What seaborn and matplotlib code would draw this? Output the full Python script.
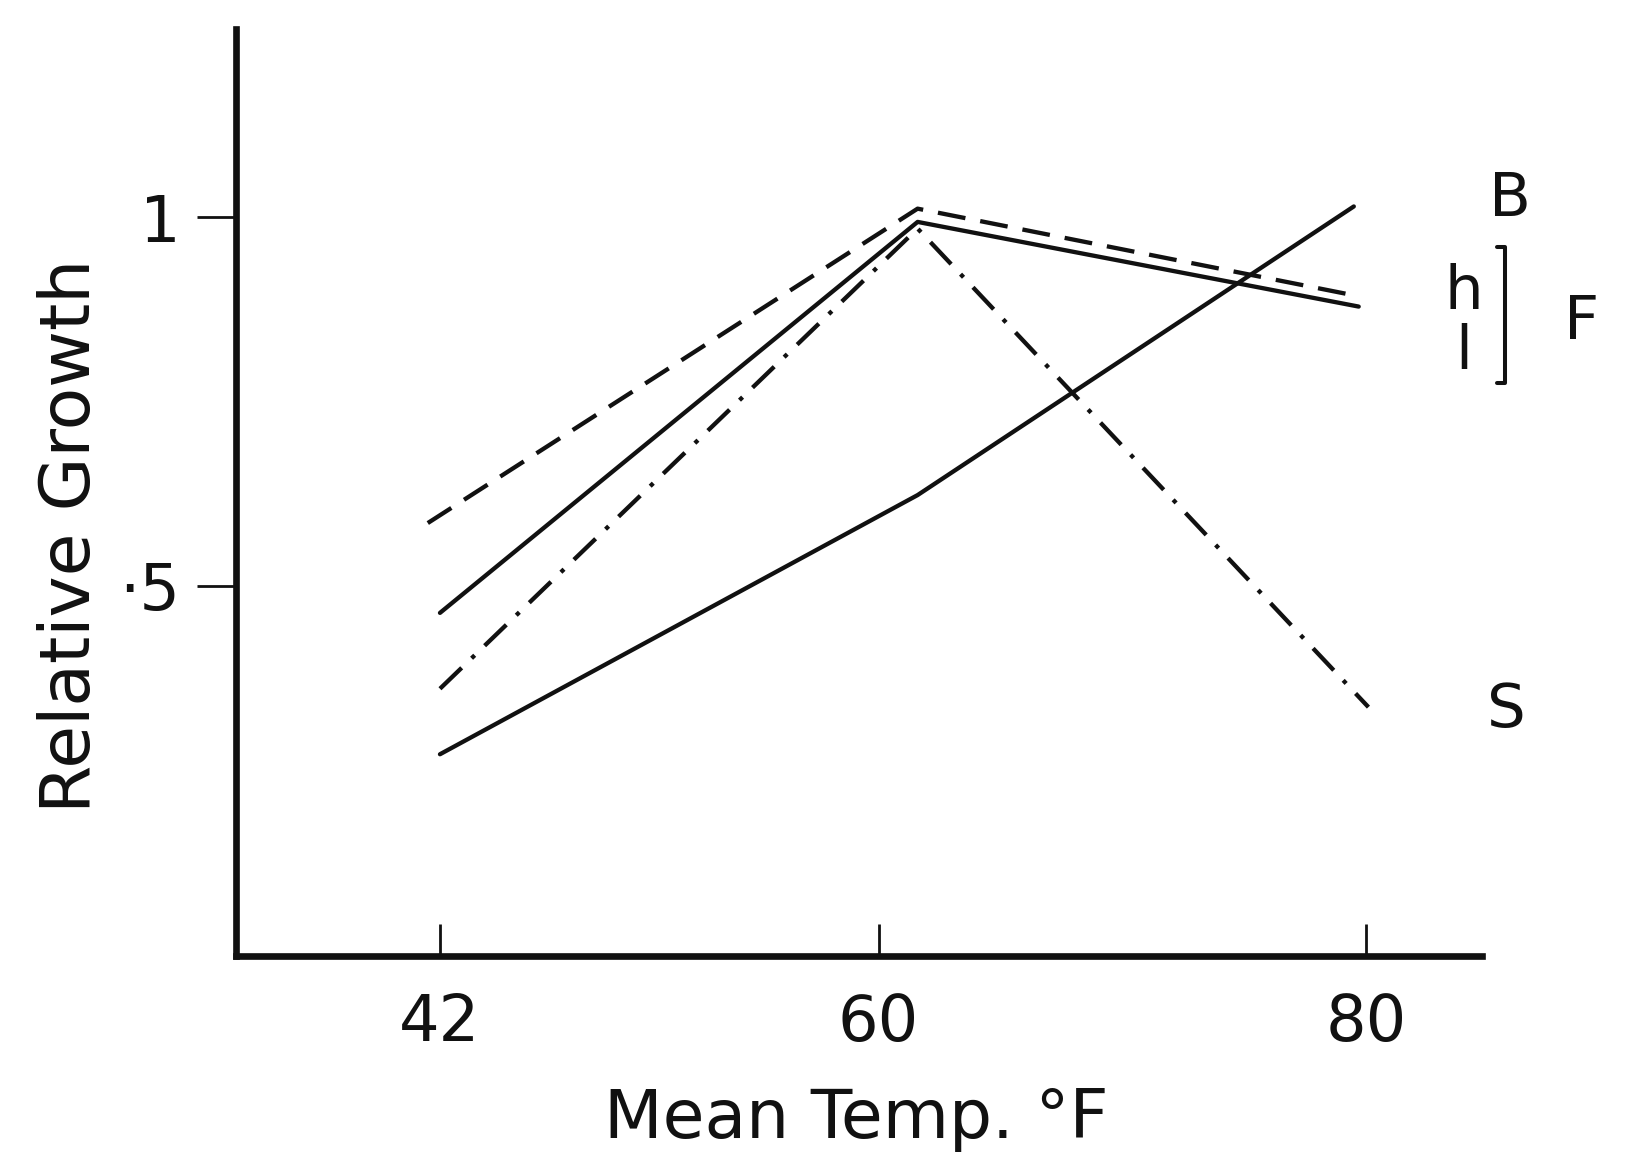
import numpy as np
import pandas as pd
import matplotlib
matplotlib.use('Agg')
import matplotlib.pyplot as plt
import seaborn as sns

# ---- data ----
series_names = ['h', 'l', 'S', 'B']
temp_h = [41.5, 61.6, 79.7]
growth_h = [0.585, 1.012, 0.893]
temp_l = [42.0, 61.6, 79.7]
growth_l = [0.463, 0.994, 0.879]
temp_S = [42.0, 61.6, 80.1]
growth_S = [0.360, 0.985, 0.335]
temp_B = [42.0, 61.6, 79.5]
growth_B = [0.271, 0.623, 1.015]
x_ticks = [42, 60, 80]
x_tick_labels = ['42', '60', '80']
y_ticks = [0.5, 1.0]
y_tick_labels = ['\u00b75', '1']

temps = {'h': temp_h, 'l': temp_l, 'S': temp_S, 'B': temp_B}
growths = {'h': growth_h, 'l': growth_l, 'S': growth_S, 'B': growth_B}
rows = []
for s in series_names:
    for t, g in zip(temps[s], growths[s]):
        rows.append({'series': s, 'temp': t, 'growth': g})
df = pd.DataFrame(rows)

sns.set_theme(style='white')
plt.rcParams['font.family'] = ['DejaVu Sans']

W, H = 1625, 1163
fig = plt.figure(figsize=(W / 100, H / 100), dpi=100)
fig.patch.set_facecolor('white')
ax = fig.add_axes([236 / W, 1 - 956 / H, (1482 - 236) / W, (956 - 29) / H])
ax.set_facecolor('white')

ink = '#111111'
sns.lineplot(data=df, x='temp', y='growth', hue='series', style='series',
             palette={s: ink for s in series_names},
             dashes={'h': (6.5, 3.5), 'l': '', 'S': (7, 3.2, 1, 3.2), 'B': ''},
             estimator=None, sort=False, legend=False, linewidth=3.1, ax=ax)

ax.set_xlim(33.63, 84.76)
ax.set_ylim(-0.003, 1.256)

for side in ['top', 'right']:
    ax.spines[side].set_visible(False)
for side in ['left', 'bottom']:
    ax.spines[side].set_color(ink)
    ax.spines[side].set_linewidth(4.8)

ax.set_xticks(x_ticks)
ax.set_xticklabels(x_tick_labels)
ax.set_yticks(y_ticks)
ax.set_yticklabels(y_tick_labels)
ax.tick_params(axis='x', direction='in', length=23, width=2.0, color=ink,
               labelsize=46, pad=26, labelcolor=ink, bottom=True)
ax.tick_params(axis='y', direction='out', length=28, width=2.0, color=ink,
               labelsize=46, pad=12, labelcolor=ink, left=True)

ax.set_xlabel('Mean Temp. \u00b0F', fontsize=49, color=ink)
ax.set_ylabel('Relative Growth', fontsize=50, color=ink)
ax.xaxis.set_label_coords(0.498, -0.176)
ax.yaxis.set_label_coords(-0.133, 0.453)
ax.xaxis.label.set_va('center')
ax.yaxis.label.set_va('center')

# series labels
lab_kw = dict(fontsize=44, color=ink, ha='center', va='center', clip_on=False)
ax.text(85.9, 1.025, 'B', **lab_kw)
ax.text(85.75, 0.330, 'S', **lab_kw)
ax.text(84.0, 0.898, 'h', **lab_kw)
ax.text(84.0, 0.816, 'l', **lab_kw)
ax.text(88.86, 0.858, 'F', **lab_kw)
ax.plot([85.37, 85.70, 85.70, 85.37], [0.960, 0.960, 0.775, 0.775],
        color=ink, lw=2.9, clip_on=False, solid_joinstyle='round',
        solid_capstyle='round')

fig.savefig('out.png', dpi=100, facecolor='white')
